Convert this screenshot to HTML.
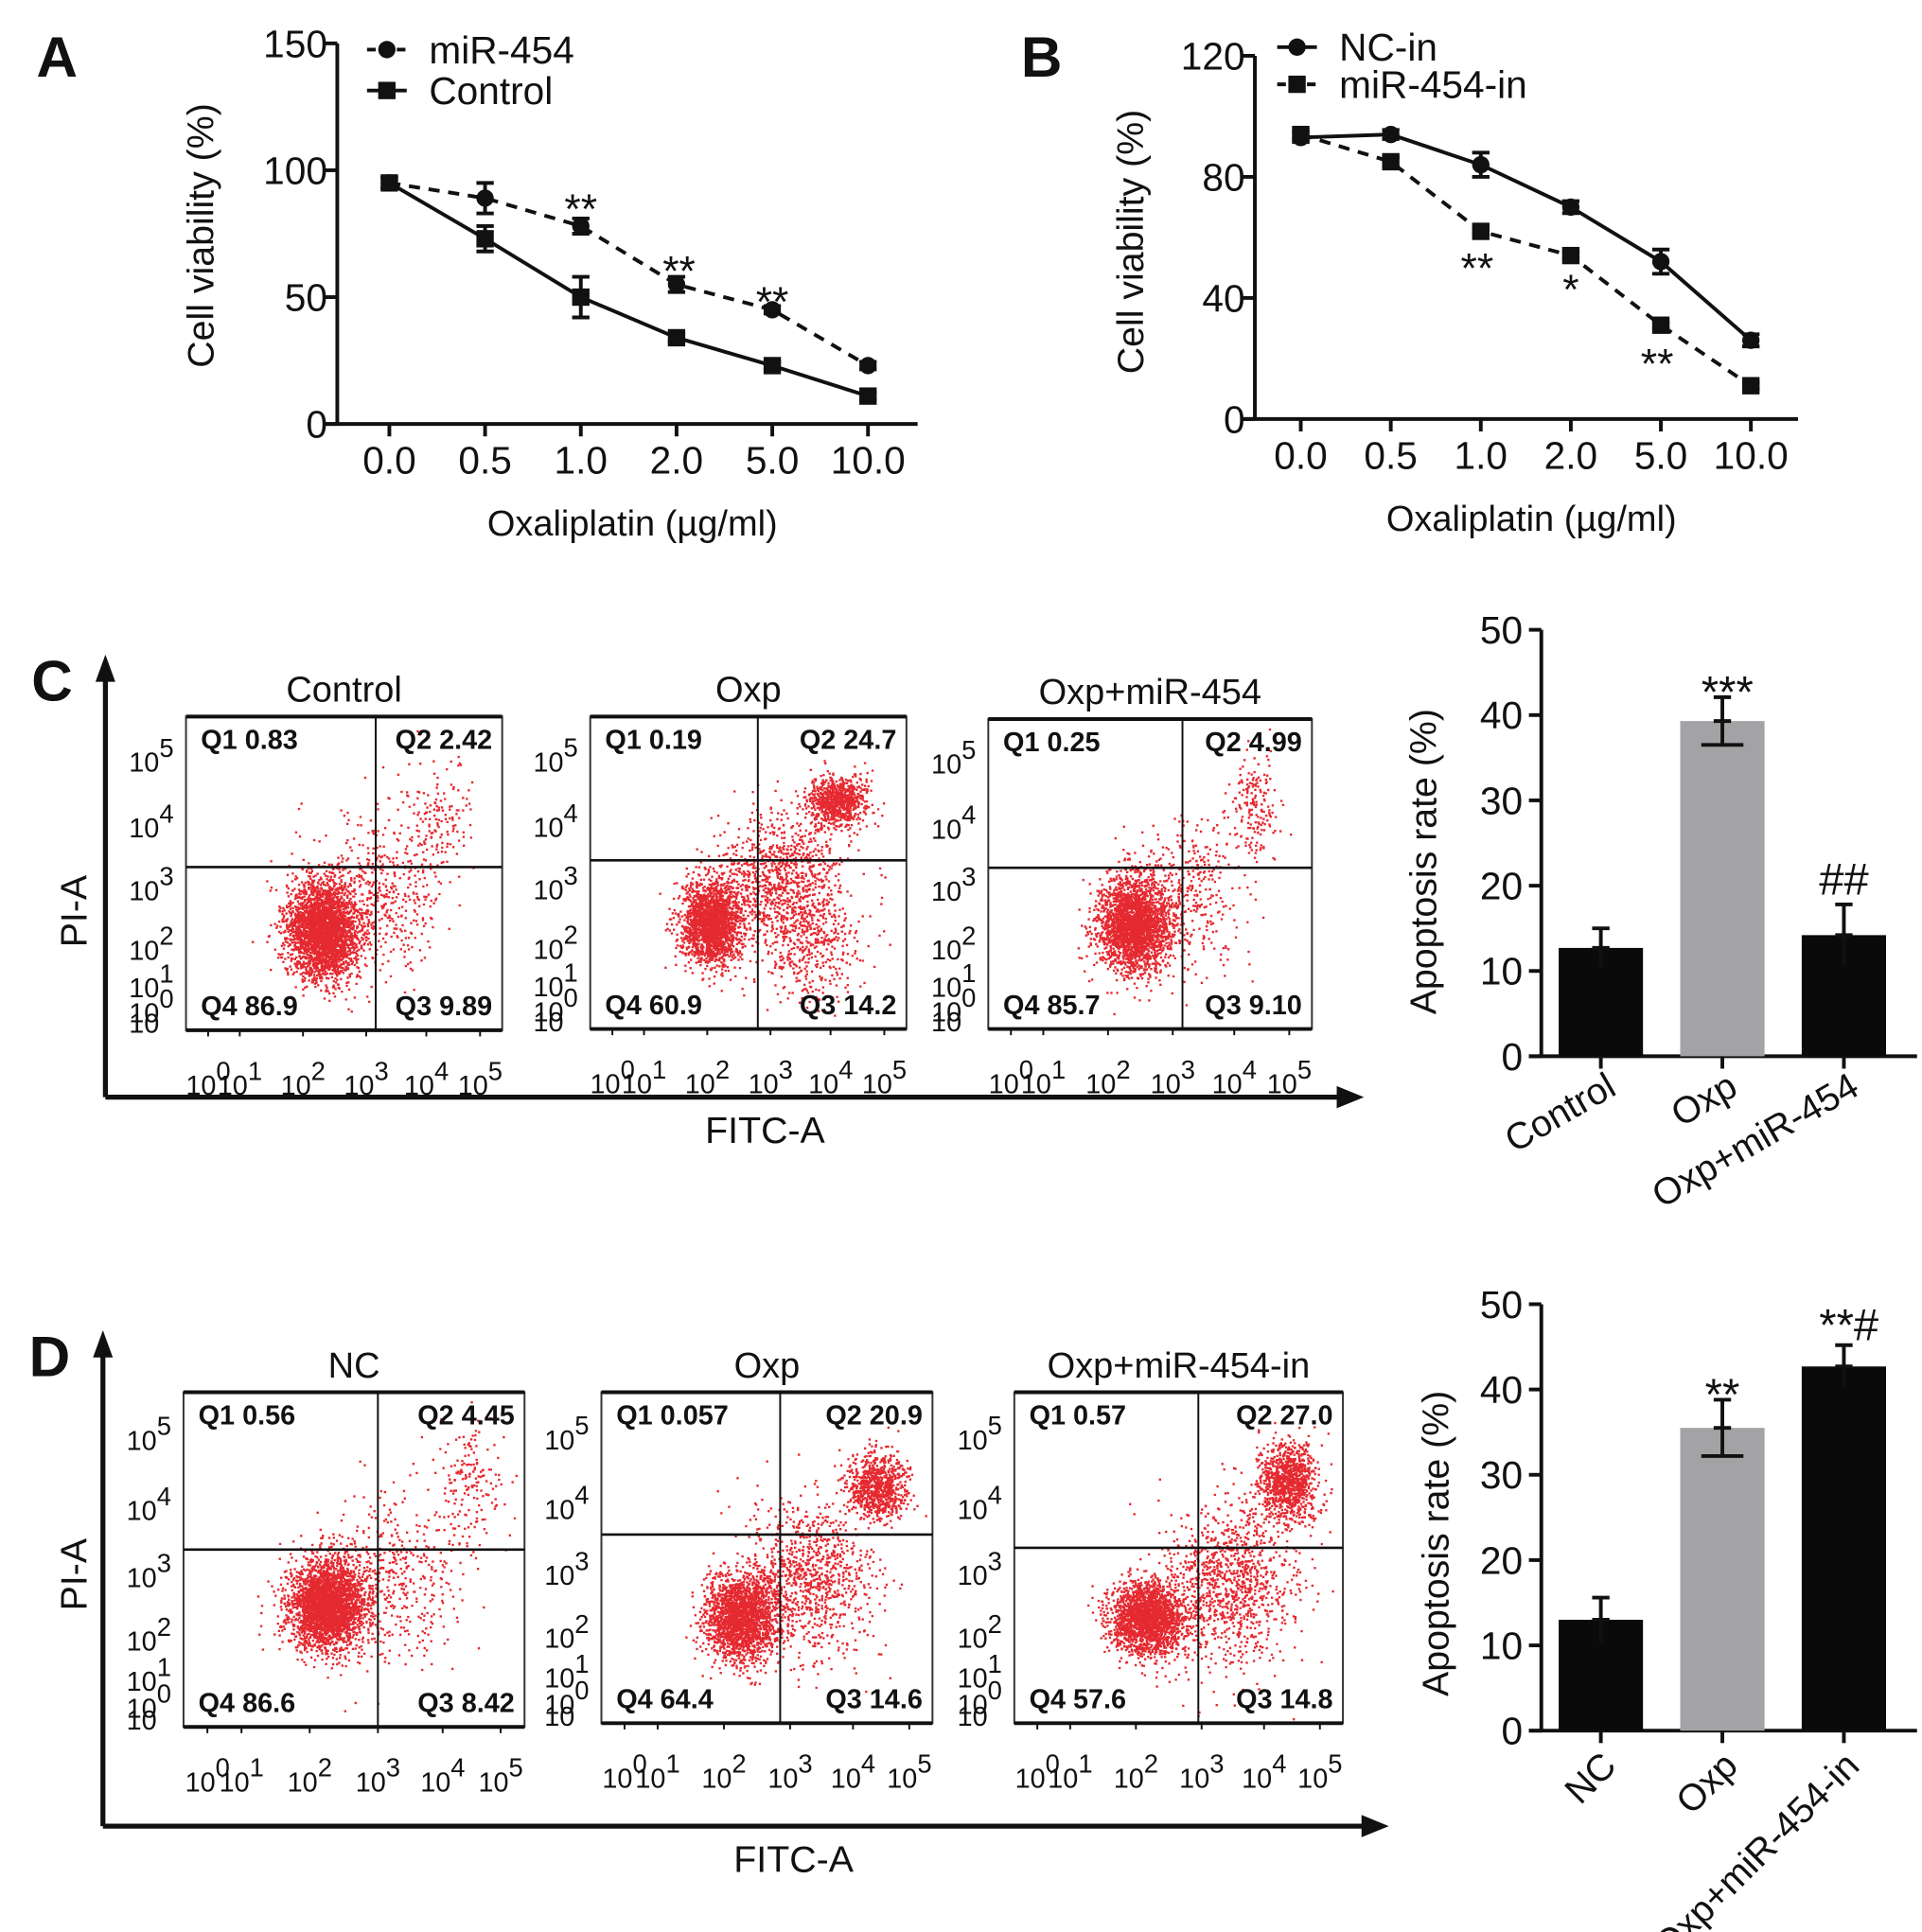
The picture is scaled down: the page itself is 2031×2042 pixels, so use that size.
<!DOCTYPE html>
<html><head><meta charset="utf-8"><style>
html,body{margin:0;padding:0;background:#fff;}
svg{display:block;font-family:"Liberation Sans",Arial,sans-serif;}
</style></head><body>
<svg id="fig" width="2031" height="2042" viewBox="0 0 1550 1558.4" preserveAspectRatio="none" xmlns="http://www.w3.org/2000/svg"></svg>
<script>
// ---- data arrays ----
const doseLabels = ["0.0","0.5","1.0","2.0","5.0","10.0"];
const aMir = [95, 89, 78, 55, 45, 23];
const aMirErr = [2, 6, 3, 3, 1.5, 1.5];
const aCtrl = [95, 73, 50, 34, 23, 11];
const aCtrlErr = [2, 5, 8, 1.5, 1.5, 1.5];
const aTicks = [0, 50, 100, 150];
const aStars = ["", "", "**", "**", "**", ""];
const bNC = [93, 94, 84, 70, 52, 26];
const bNCErr = [1.5, 1.5, 4, 2, 4, 2];
const bIn = [94, 85, 62, 54, 31, 11];
const bInErr = [1.5, 1.5, 1, 1, 1, 1];
const bTicks = [0, 40, 80, 120];
const bStars = ["", "", "**", "*", "**", ""];
const cCats = ["Control", "Oxp", "Oxp+miR-454"];
const cVals = [12.7, 39.3, 14.2];
const cErrs = [2.3, 2.8, 3.6];
const cAnn = ["", "***", "##"];
const dCats = ["NC", "Oxp", "Oxp+miR-454-in"];
const dVals = [13.0, 35.5, 42.7];
const dErrs = [2.6, 3.3, 2.5];
const dAnn = ["", "**", "**#"];
const barTicks = [0, 10, 20, 30, 40, 50];
const flowTitlesC = ["Control", "Oxp", "Oxp+miR-454"];
const flowTitlesD = ["NC", "Oxp", "Oxp+miR-454-in"];
const flowQC = [["0.83","2.42","86.9","9.89"],["0.19","24.7","60.9","14.2"],["0.25","4.99","85.7","9.10"]];
const flowQD = [["0.56","4.45","86.6","8.42"],["0.057","20.9","64.4","14.6"],["0.57","27.0","57.6","14.8"]];
// clusters: [fx, fy, sdx, sdy, n]
const cloudsC = [
 [[0.43,0.68,0.055,0.075,3000],[0.6,0.57,0.1,0.12,500],[0.8,0.32,0.05,0.1,150]],
 [[0.38,0.66,0.045,0.065,2000],[0.6,0.52,0.1,0.11,1000],[0.78,0.27,0.045,0.04,800],[0.7,0.72,0.08,0.1,400]],
 [[0.45,0.66,0.055,0.075,2500],[0.62,0.56,0.08,0.12,350],[0.82,0.28,0.04,0.08,180]]
];
const cloudsD = [
 [[0.42,0.63,0.055,0.065,3000],[0.6,0.56,0.1,0.12,450],[0.83,0.28,0.05,0.1,180]],
 [[0.42,0.68,0.055,0.065,2000],[0.62,0.56,0.1,0.12,1000],[0.83,0.28,0.045,0.05,800]],
 [[0.4,0.68,0.055,0.055,2000],[0.65,0.58,0.1,0.12,1100],[0.83,0.27,0.045,0.06,1000]]
];

const NS = "http://www.w3.org/2000/svg";
const svg = document.getElementById("fig");
function mk(tag, attrs, parent) {
  const e = document.createElementNS(NS, tag);
  for (const k in attrs) e.setAttribute(k, attrs[k]);
  (parent || svg).appendChild(e);
  return e;
}
function txt(x, y, s, size, anchor, weight, rot, parent) {
  const t = mk("text", {x: x, y: y, "font-size": size, "text-anchor": anchor || "middle", "font-weight": weight || "normal", fill: "#111"}, parent);
  if (rot) t.setAttribute("transform", "rotate(" + rot + " " + x + " " + y + ")");
  t.textContent = s;
  return t;
}
function line(x1, y1, x2, y2, w, dash, parent) {
  const l = mk("line", {x1: x1, y1: y1, x2: x2, y2: y2, stroke: "#111", "stroke-width": w || 3}, parent);
  if (dash) l.setAttribute("stroke-dasharray", dash);
  return l;
}
function marker(x, y, shape, parent) {
  let m;
  if (shape === "c") m = mk("circle", {cx: x, cy: y, r: 7, fill: "#111"}, parent);
  else m = mk("rect", {x: x - 7, y: y - 7, width: 14, height: 14, fill: "#111"}, parent);
  return m;
}
function errbar(x, yTop, yBot, parent) {
  const g = mk("g", {}, parent);
  line(x, yTop, x, yBot, 3, null, g);
  line(x - 7, yTop, x + 7, yTop, 3, null, g);
  line(x - 7, yBot, x + 7, yBot, 3, null, g);
  return g;
}

// ---------- line chart builder ----------
function lineChart(opt) {
  const g = mk("g", {});
  
  
  const L = txt(opt.labelX, opt.labelY, opt.label, 46, "middle", "bold", 0, g);
  
  
  const xs = i => opt.x0 + i * opt.dx;
  const ys = v => opt.yBase - v * opt.ppu;
  const yAxis = line(opt.axX, ys(opt.ticks[opt.ticks.length - 1]), opt.axX, opt.yBase, 3, null, g);
  
  
  const xAxis = line(opt.axX - 10, opt.yBase, opt.axEnd, opt.yBase, 3, null, g);
  
  
  opt.ticks.forEach(t => {
    line(opt.axX - 10, ys(t), opt.axX, ys(t), 3, null, g);
    const tl = txt(opt.axX - 8, ys(t) + 11, String(t), 31, "end", "normal", 0, g);
    
    
  });
  doseLabels.forEach((d, i) => {
    line(xs(i), opt.yBase, xs(i), opt.yBase + 10, 3, null, g);
    const tl = txt(xs(i), opt.yBase + 40, d, 31, "middle", "normal", 0, g);
    
    
  });
  const xt = txt(opt.xTitleX, opt.yBase + 90, "Oxaliplatin (µg/ml)", 29, "middle", "normal", 0, g);
  
  
  const yt = txt(opt.yTitleX, opt.yTitleY, "Cell viability  (%)", 30, "middle", "normal", -90, g);
  
  
  opt.series.forEach(s => {
    const sg = mk("g", {}, g);
    
    
    const pts = s.vals.map((v, i) => xs(i) + "," + ys(v)).join(" ");
    const pl = mk("polyline", {points: pts, fill: "none", stroke: "#111", "stroke-width": 3}, sg);
    if (s.dash) pl.setAttribute("stroke-dasharray", "9,7");
    s.vals.forEach((v, i) => {
      const eb = errbar(xs(i), ys(v + s.err[i]), ys(v - s.err[i]), sg);
      
      
      const m = marker(xs(i), ys(v), s.shape, sg);
      
      
    });
    const lg = mk("g", {}, g);
    
    
    line(s.lx, s.ly, s.lx + 32, s.ly, 3, s.dash ? "7,5" : null, lg);
    marker(s.lx + 16, s.ly, s.shape, lg);
    txt(s.lx + 50, s.ly + 11, s.name, 31, "start", "normal", 0, lg);
  });
  opt.stars.forEach((st, i) => {
    if (!st) return;
    const a = txt(xs(i) + (opt.starDx[i] || 0), opt.starY[i], st, 34, "middle", "normal", 0, g);
    
    
  });
}

lineChart({name: "panel-a-line-chart", label: "A", labelX: 46, labelY: 62, x0: 314, dx: 77.2, yBase: 342, ppu: 307 / 150,
  axX: 272, axEnd: 740, ticks: aTicks, xTitleX: 510, yTitleX: 172, yTitleY: 190,
  series: [
    {name: "miR-454", vals: aMir, err: aMirErr, shape: "c", dash: true, lx: 296, ly: 40},
    {name: "Control", vals: aCtrl, err: aCtrlErr, shape: "s", dash: false, lx: 296, ly: 73}
  ],
  stars: aStars, starY: [0, 0, 180, 230, 255, 0], starDx: [0, 0, 0, 2, 0, 0]});

lineChart({name: "panel-b-line-chart", label: "B", labelX: 840, labelY: 62, x0: 1049, dx: 72.6, yBase: 338, ppu: 293 / 120,
  axX: 1012, axEnd: 1450, ticks: bTicks, xTitleX: 1235, yTitleX: 922, yTitleY: 195,
  series: [
    {name: "NC-in", vals: bNC, err: bNCErr, shape: "c", dash: false, lx: 1030, ly: 38},
    {name: "miR-454-in", vals: bIn, err: bInErr, shape: "s", dash: true, lx: 1030, ly: 68}
  ],
  stars: bStars, starY: [0, 0, 228, 245, 305, 0], starDx: [-3, 0, -3, 0, -3, 0]});

// ---------- flow cytometry ----------
let seed = 12345;
function rnd() { seed = (seed * 1664525 + 1013904223) >>> 0; return seed / 4294967296; }
function gauss() { let u = rnd() || 1e-9, v = rnd(); return Math.sqrt(-2 * Math.log(u)) * Math.cos(2 * Math.PI * v); }

function sup(x, y, exp, parent, size) {
  const t = mk("text", {x: x, y: y, "font-size": size || 22, "text-anchor": "start", fill: "#111"}, parent);
  t.textContent = "10";
  const ts = mk("tspan", {dy: -12, "font-size": (size || 22) * 0.95}, t);
  ts.textContent = exp;
  return t;
}

function flowPlot(box, title, q, clouds, name) {
  const g = mk("g", {});
  
  
  const [L, T, R, B, vx, hy] = box;
  const W = R - L, H = B - T;
  const tt = txt((L + R) / 2, T - 12, title, 29, "middle", "normal", 0, g);
  
  
  const dots = mk("g", {}, g);
  
  
  let d = "";
  clouds.forEach(c => {
    for (let k = 0; k < c[4]; k++) {
      const fx = c[0] + gauss() * c[2], fy = c[1] + gauss() * c[3];
      if (fx < 0.01 || fx > 0.99 || fy < 0.01 || fy > 0.99) continue;
      const x = L + fx * W, y = T + fy * H;
      d += "M" + x.toFixed(1) + " " + y.toFixed(1) + "h1.8v1.8h-1.8z";
    }
  });
  mk("path", {d: d, fill: "#e2121a", "fill-opacity": 0.9}, dots);
  const fr = mk("rect", {x: L, y: T, width: W, height: H, fill: "none", stroke: "#333", "stroke-width": 1.5}, g);
  
  
  line(L, T, R, T, 3, null, g); line(L, B, R, B, 3, null, g);
  line(L + vx * W, T, L + vx * W, B, 1.5, null, g);
  line(L, T + hy * H, R, T + hy * H, 2, null, g);
  const lab = [["Q1 " + q[0], L + 12, T + 26, "start"], ["Q2  " + q[1], R - 8, T + 26, "end"], ["Q4 " + q[2], L + 12, B - 12, "start"], ["Q3  " + q[3], R - 8, B - 12, "end"]];
  lab.forEach(a => {
    const t = txt(a[1], a[2], a[0], 22, a[3], "bold", 0, g);
    
    
  });
  const yf = [0.12, 0.33, 0.53, 0.72, 0.84, 0.92];
  ["5", "4", "3", "2", "1", "0"].forEach((e, i) => {
    const t = sup(L - 46, T + yf[i] * H + 14, e, g);
    
    
  });
  txt(L - 46, B + 2, "10", 22, "start", "normal", 0, g);
  const xf = [0.07, 0.17, 0.37, 0.57, 0.76, 0.93];
  ["0", "1", "2", "3", "4", "5"].forEach((e, i) => {
    line(L + xf[i] * W, B, L + xf[i] * W, B + 5, 1.5, null, g);
    const t = sup(L + xf[i] * W - 18, B + 52, e, g);
    
    
  });
}

function axesArrows(x, yTop, yBase, xEnd, label, lx, ly, fitcX, fitcY, piY, name) {
  const g = mk("g", {});
  
  
  line(x, yTop + 20, x, yBase, 4, null, g);
  line(x, yBase, xEnd - 20, yBase, 4, null, g);
  mk("polygon", {points: (x - 8) + "," + (yTop + 22) + " " + (x + 8) + "," + (yTop + 22) + " " + x + "," + yTop, fill: "#111"}, g);
  mk("polygon", {points: (xEnd - 22) + "," + (yBase - 9) + " " + (xEnd - 22) + "," + (yBase + 9) + " " + xEnd + "," + yBase, fill: "#111"}, g);
  const L = txt(lx, ly, label, 46, "middle", "bold", 0, g);
  
  
  const f = txt(fitcX, fitcY, "FITC-A", 30, "middle", "normal", 0, g);
  
  
  const p = txt(70, piY, "PI-A", 30, "middle", "normal", -90, g);
  
  
}

axesArrows(85, 528, 885, 1100, "C", 42, 565, 617, 922, 735, "panel-c-axes");
axesArrows(83, 1073, 1473, 1120, "D", 40, 1110, 640, 1510, 1270, "panel-d-axes");

const boxesC = [[150, 578, 405, 831, 0.6, 0.48], [476, 578, 731, 830, 0.53, 0.46], [797, 580, 1058, 830, 0.6, 0.48]];
const boxesD = [[148, 1123, 423, 1393, 0.57, 0.47], [485, 1123, 752, 1390, 0.54, 0.43], [818, 1123, 1083, 1390, 0.56, 0.47]];
boxesC.forEach((b, i) => flowPlot(b, flowTitlesC[i], flowQC[i], cloudsC[i], "flow-plot-c-" + (i + 1)));
boxesD.forEach((b, i) => flowPlot(b, flowTitlesD[i], flowQD[i], cloudsD[i], "flow-plot-d-" + (i + 1)));

// ---------- bar charts ----------
function barChart(opt) {
  const g = mk("g", {});
  
  
  const ys = v => opt.yBase - v * 6.88;
  const ya = line(1243, ys(50), 1243, opt.yBase, 3, null, g);
  
  
  const xa = line(1233, opt.yBase, 1546, opt.yBase, 3, null, g);
  
  
  barTicks.forEach(t => {
    line(1233, ys(t), 1243, ys(t), 3, null, g);
    const tl = txt(1228, ys(t) + 11, String(t), 31, "end", "normal", 0, g);
    
    
  });
  const yt = txt(opt.ytX, opt.ytY, "Apoptosis rate  (%)", 30, "middle", "normal", -90, g);
  
  
  const centers = [1291, 1389, 1487];
  opt.vals.forEach((v, i) => {
    const cx = centers[i];
    const b = mk("rect", {x: cx - 34, y: ys(v), width: 68, height: opt.yBase - ys(v), fill: i === 1 ? "#a3a3a6" : "#0a0a0a"}, g);
    
    
    const up = errbar(cx, ys(v + opt.errs[i]), ys(v), g);
    line(cx, ys(v), cx, ys(v - opt.errs[i]), 3, null, g);
    if (i === 1) line(cx - 17, ys(v - opt.errs[i]), cx + 17, ys(v - opt.errs[i]), 3, null, g);
    
    
    line(cx, opt.yBase, cx, opt.yBase + 10, 3, null, g);
    const lab = txt(cx + 14, opt.yBase + 30, opt.cats[i], 30, "end", "normal", opt.rot, g);
    
    
    const s = opt.ann[i];
    if (s) {
      const dy = s.indexOf('#') >= 0 ? (s.indexOf('*') >= 0 ? -4 : -8) : 8;
      const a = txt(cx + (s.length > 2 ? 4 : 0), ys(v + opt.errs[i]) + dy, s, 36, "middle", "normal", 0, g);
      
      
    }
  });
}
barChart({name: "panel-c-bar-chart", yBase: 852, vals: cVals, errs: cErrs, cats: cCats, ann: cAnn, rot: -30, ytX: 1158, ytY: 695});
barChart({name: "panel-d-bar-chart", yBase: 1396, vals: dVals, errs: dErrs, cats: dCats, ann: dAnn, rot: -45, ytX: 1168, ytY: 1245});
</script>
</body></html>
